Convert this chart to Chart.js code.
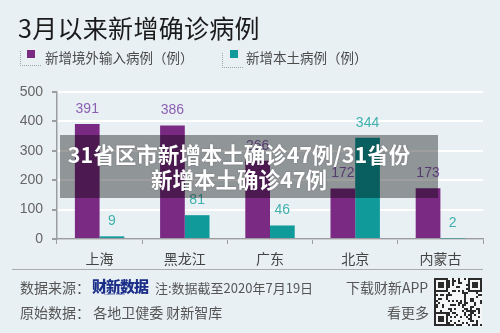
<!DOCTYPE html>
<html>
<head>
<meta charset="utf-8">
<script src="https://cdn.jsdelivr.net/npm/chart.js@4/dist/chart.umd.min.js"></script>
<style>
  html, body { margin: 0; padding: 0; }
  body { width: 500px; height: 333px; background: #e9f0f4; position: relative; overflow: hidden;
         font-family: "Noto Sans CJK SC", "Liberation Sans", sans-serif; }
  #chart { position: absolute; left: 0; top: 0; }
  .abs { position: absolute; white-space: nowrap; line-height: 1; }
  .title { left: 18px; top: 15px; font-size: 25px; color: #1a1a1a; letter-spacing: 0.3px; }
  .lg-corner { position: absolute; width: 20px; height: 14px; border-left: 1px dotted #9aa; border-bottom: 1px dotted #9aa; }
  .lg-box { position: absolute; width: 8px; height: 8px; }
  .lg-text { font-size: 13.5px; color: #4a4a4a; }
  .overlay { position: absolute; left: 60px; top: 135px; width: 378px; height: 63px; background: rgba(0,0,0,0.38); }
  .ov-text { position: absolute; left: 0; width: 358px; text-align: center; color: #fff; font-weight: bold;
             font-size: 21.5px; text-shadow: 0 0 2px rgba(0,0,0,0.25); }
  .foot { font-size: 14px; color: #555; }
  .note { font-size: 13px; color: #555; }
  .logo { font-size: 15px; font-weight: 900; color: #1c2f88; letter-spacing: -1px; }
  .logo-sub { font-size: 4px; color: #1c2f88; font-family: "Liberation Sans", sans-serif; }
  .rule { position: absolute; left: 12px; top: 269px; width: 471px; height: 1px; background: #a8adb0; }
</style>
</head>
<body>
<canvas id="chart" width="500" height="333"></canvas>

<div class="abs title">3月以来新增确诊病例</div>

<div class="lg-corner" style="left:20px; top:51px;"></div>
<div class="lg-box" style="left:27px; top:50px; background:#7b2a84;"></div>
<div class="abs lg-text" style="left:45px; top:51px;">新增境外输入病例（例）</div>

<div class="lg-corner" style="left:222px; top:53px;"></div>
<div class="lg-box" style="left:230px; top:50px; background:#109a99;"></div>
<div class="abs lg-text" style="left:246px; top:51px;">新增本土病例（例）</div>

<div class="rule"></div>

<div class="abs foot" style="left:20px; top:280px;">数据来源：</div>
<div class="abs logo" style="left:92px; top:278px;">财新数据</div>
<div class="abs logo-sub" style="left:104px; top:292px;">Caixin Data</div>
<div class="abs note" style="left:155px; top:281px;">注:数据截至2020年7月19日</div>
<div class="abs foot" style="left:20px; top:305px;">原始数据： 各地卫健委 财新智库</div>
<div class="abs foot" style="left:346px; top:280px;">下载财新APP</div>
<div class="abs foot" style="left:387px; top:305px;">看更多</div>
<canvas id="qr" width="48" height="48" style="position:absolute; left:434px; top:278px;"></canvas>

<div class="overlay">
  <div class="abs ov-text" style="top:8px;">31省区市新增本土确诊47例/31省份</div>
  <div class="abs ov-text" style="top:33px;">新增本土确诊47例</div>
</div>

<script>
// Provinces and daily case counts since March
const provinces = ['上海', '黑龙江', '广东', '北京', '内蒙古'];
const importedCases = [391, 386, 266, 172, 173];
const localCases = [9, 81, 46, 344, 2];
const yTicks = [0, 100, 200, 300, 400, 500];

const PURPLE = '#7b2a84';
const TEAL = '#109a99';
const NUM_FONT = '"Liberation Sans", "Noto Sans CJK SC", sans-serif';

// Value labels above each bar
const valueLabels = {
  id: 'valueLabels',
  afterDatasetsDraw(chart) {
    const ctx = chart.ctx;
    ctx.save();
    ctx.font = '14px ' + NUM_FONT;
    ctx.textAlign = 'center';
    ctx.textBaseline = 'bottom';
    chart.data.datasets.forEach((ds, i) => {
      const meta = chart.getDatasetMeta(i);
      ctx.fillStyle = ds.labelColor;
      meta.data.forEach((bar, j) => {
        ctx.fillText(String(ds.data[j]), bar.x, bar.y - 8);
      });
    });
    ctx.restore();
  }
};

new Chart(document.getElementById('chart'), {
  type: 'bar',
  data: {
    labels: provinces,
    datasets: [
      { label: '新增境外输入病例（例）', data: importedCases, backgroundColor: PURPLE, labelColor: '#8b60b3' },
      { label: '新增本土病例（例）', data: localCases, backgroundColor: TEAL, labelColor: '#3fb0ad' }
    ]
  },
  options: {
    responsive: false,
    animation: false,
    events: [],
    layout: { padding: { left: 0, right: 17, top: 92, bottom: 64 } },
    datasets: { bar: { barPercentage: 1, categoryPercentage: 0.58 } },
    plugins: { legend: { display: false }, tooltip: { enabled: false } },
    scales: {
      x: {
        afterFit(scale) { scale.height = 30; },
        grid: { drawOnChartArea: false, drawTicks: true, tickLength: 5, tickColor: '#9a9ea2', offset: true },
        border: { color: '#9a9ea2', width: 1.5 },
        ticks: { color: '#444', padding: 6, font: { size: 14, family: '"Noto Sans CJK SC", sans-serif' } }
      },
      y: {
        min: 0, max: 500,
        afterFit(scale) { scale.width = 57; },
        afterBuildTicks(scale) { scale.ticks = yTicks.map(v => ({ value: v })); },
        grid: { color: '#ffffff', lineWidth: 2, tickColor: '#9a9ea2', tickLength: 5 },
        border: { color: '#9a9ea2', width: 1.5 },
        ticks: { color: '#666', padding: 9, font: { size: 14, family: NUM_FONT } }
      }
    }
  },
  plugins: [valueLabels]
});

// Download QR badge
(function drawQR() {
  const c = document.getElementById('qr').getContext('2d');
  const n = 24, s = 2;
  c.fillStyle = '#f4f6f7';
  c.fillRect(0, 0, 48, 48);
  c.fillStyle = '#2a2a2a';
  for (let y = 0; y < n; y++) {
    for (let x = 0; x < n; x++) {
      if (((x * 5 + y * 3) ^ (x * y)) % 3 === 0) c.fillRect(x * s, y * s, s, s);
    }
  }
  const finder = (fx, fy) => {
    c.fillStyle = '#2a2a2a'; c.fillRect(fx, fy, 14, 14);
    c.fillStyle = '#f4f6f7'; c.fillRect(fx + 2, fy + 2, 10, 10);
    c.fillStyle = '#2a2a2a'; c.fillRect(fx + 4, fy + 4, 6, 6);
  };
  finder(0, 0); finder(34, 0); finder(0, 34);
})();
</script>
</body>
</html>
